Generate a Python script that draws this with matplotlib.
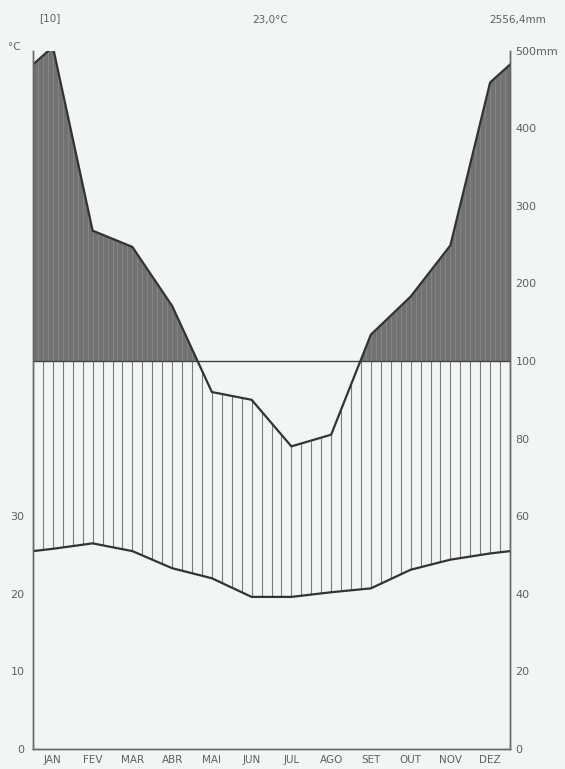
import numpy as np
import matplotlib
matplotlib.use("Agg")
from matplotlib import pyplot as plt

months = ['JAN', 'FEV', 'MAR', 'ABR', 'MAI', 'JUN', 'JUL', 'AGO', 'SET', 'OUT', 'NOV', 'DEZ']
temp = [25.8, 26.5, 25.5, 23.3, 22.0, 19.6, 19.6, 20.2, 20.7, 23.1, 24.4, 25.2]   # deg C
prec = [505, 268, 247, 171, 92, 90, 78, 81, 134, 183, 249, 459]                    # mm
temp_ticks = [0, 10, 20, 30]
prec_ticks = [0, 20, 40, 60, 80, 100, 200, 300, 400, 500]
prec_labels = ['0', '20', '40', '60', '80', '100', '200', '300', '400', '500mm']

bg = '#f1f6f3'
ink = '#333333'
txt = '#606060'


def pscale(p):
    # above 100 mm the scale is reduced 1:5
    p = np.asarray(p, dtype=float)
    return np.where(p <= 100, p, 100 + (p - 100) / 5.0)


# month centres plus both edges (edge = mean of DEZ and JAN)
x = np.concatenate([[0], np.arange(12) + 0.5, [12]])
t_edge = (temp[0] + temp[-1]) / 2
p_edge = (prec[0] + prec[-1]) / 2
t_y = 2 * np.concatenate([[t_edge], temp, [t_edge]])
p_y = pscale(np.concatenate([[p_edge], prec, [p_edge]]))

fig = plt.figure(figsize=(5.65, 7.69), dpi=100)
fig.patch.set_facecolor(bg)
ax = fig.add_axes([33 / 565, 20 / 769, 477 / 565, 698.4 / 769])
ax.set_facecolor(bg)

# fine grid for the fills
xf = np.linspace(0, 12, 1201)
pf = np.interp(xf, x, p_y)

# very humid part (> 100 mm), dark
ax.fill_between(xf, 100, pf, where=pf >= 100, color='#727272', lw=0, zorder=1)
xs = np.arange(0, 12.01, 0.125)
ps = np.interp(xs, x, p_y)
m = ps > 100
ax.vlines(xs[m], 100, ps[m], color='#888888', lw=0.6, zorder=1.5)

# humid part: vertical lines between temperature and precipitation
xv = np.arange(0, 12.01, 0.25)
tv = np.interp(xv, x, t_y)
pv = np.minimum(np.interp(xv, x, p_y), 100)
ax.vlines(xv, tv, pv, color='#7a7a7a', lw=0.8, zorder=2)

ax.plot([0, 12], [100, 100], color='#444444', lw=1.0, zorder=3)
ax.plot(x, p_y, color=ink, lw=1.6, zorder=4)
ax.plot(x, t_y, color=ink, lw=1.6, zorder=4)

ax.set_xlim(0, 12)
ax.set_ylim(0, 180)

ax.set_xticks(np.arange(12) + 0.5)
ax.set_xticklabels(months, fontsize=7.5, color=txt)
ax.set_yticks([2 * t for t in temp_ticks])
ax.set_yticklabels([str(t) for t in temp_ticks], fontsize=8, color=txt)
ax.tick_params(axis='both', length=0, pad=4)
ax.tick_params(axis='y', pad=6)

ax2 = ax.twinx()
ax2.set_ylim(0, 180)
ax2.set_yticks(pscale(prec_ticks))
ax2.set_yticklabels(prec_labels, fontsize=8, color=txt)
ax2.tick_params(axis='y', length=0, pad=4)

for a in (ax, ax2):
    a.spines['top'].set_visible(False)
    for s in ('left', 'right', 'bottom'):
        a.spines[s].set_color('#666666')
        a.spines[s].set_linewidth(1.0)

fig.text(50 / 565, 1 - 18 / 769, '[10]', fontsize=7.5, color=txt, ha='center', va='center')
fig.text(270 / 565, 1 - 20 / 769, '23,0°C', fontsize=7.5, color=txt, ha='center', va='center')
fig.text(518 / 565, 1 - 20 / 769, '2556,4mm', fontsize=7.5, color=txt, ha='center', va='center')
fig.text(14 / 565, 1 - 47 / 769, '°C', fontsize=7.5, color=txt, ha='center', va='center')

fig.savefig('out.png', dpi=100, facecolor=bg)
